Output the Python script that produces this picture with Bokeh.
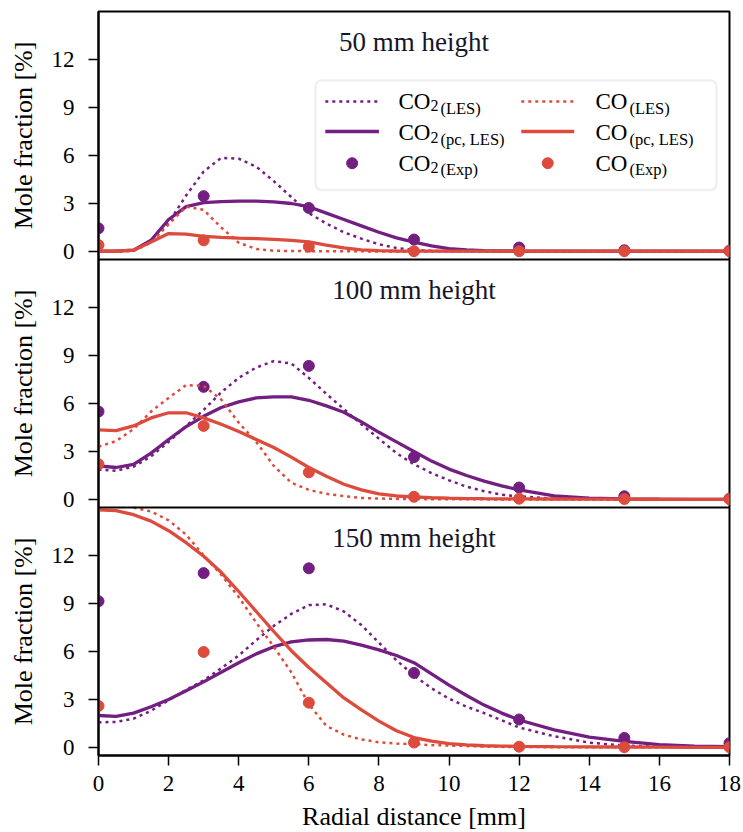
import math
from bokeh.plotting import figure
from bokeh.models import Range1d, Label, BoxAnnotation, FixedTicker, Span
from bokeh.layouts import row, column
from bokeh.embed import file_html
from bokeh.resources import INLINE

NaN = float("nan")

# ---------------- data ----------------
x_grid = [0, 0.5, 1, 1.5, 2, 2.5, 3, 3.5, 4, 4.5, 5, 5.5, 6, 6.5, 7, 7.5, 8, 8.5,
          9, 9.5, 10, 10.5, 11, 11.5, 12, 13, 14, 15, 16, 17, 18]
x_exp = [0, 3, 6, 9, 12, 15, 18]

heights = ["50 mm height", "100 mm height", "150 mm height"]
y_label = "Mole fraction [%]"
x_label = "Radial distance [mm]"

# 50 mm
co2_les_50 = [0, 0, 0.05, 0.6, 1.8, 3.5, 5.0, 5.85, 5.8, 5.3, 4.4, 3.4, 2.4, 1.75, 1.2, 0.8, 0.45,
              0.22, 0.1, 0.04, 0.02, 0.01, 0, 0, 0, 0, 0, 0, 0, 0, 0]
co2_pc_50 = [0.02, 0.02, 0.08, 0.7, 2.0, 2.8, 3.05, 3.12, 3.15, 3.15, 3.1, 3.0, 2.8, 2.4, 2.0, 1.6,
             1.2, 0.85, 0.58, 0.35, 0.18, 0.1, 0.06, 0.04, 0.03, 0.02, 0.02, 0.02, 0.02, 0.02, 0.02]
co_les_50 = [0, 0, 0.05, 0.55, 1.7, 2.8, 2.6, 1.5, 0.55, 0.15, 0.05, 0.03, 0.02, 0.02, 0.01, 0.01,
             0, 0, 0, 0, 0, 0, 0, 0, 0, 0, 0, 0, 0, 0, 0]
co_pc_50 = [0.02, 0.02, 0.08, 0.6, 1.12, 1.08, 0.95, 0.88, 0.83, 0.8, 0.76, 0.7, 0.6, 0.4, 0.22, 0.1,
            0.05, 0.03, 0.02, 0.02, 0.02, 0.02, 0.02, 0.02, 0.02, 0.02, 0.02, 0.02, 0.02, 0.02, 0.02]
co2_exp_50 = [1.45, 3.46, 2.72, 0.75, 0.25, 0.08, 0.05]
co_exp_50 = [0.4, 0.7, 0.3, 0.02, 0.02, 0.02, 0.02]

# 100 mm
co2_les_100 = [1.87, 1.8, 2.05, 2.7, 3.6, 4.6, 5.6, 6.7, 7.6, 8.25, 8.65, 8.5, 7.6, 6.6, 5.65, 4.7,
               3.8, 2.9, 2.2, 1.65, 1.2, 0.8, 0.52, 0.3, 0.2, 0.05, 0.02, 0.01, 0, 0, 0]
co2_pc_100 = [2.1, 2.0, 2.2, 2.9, 3.75, 4.55, 5.2, 5.75, 6.1, 6.35, 6.42, 6.42, 6.2, 5.85, 5.45, 4.85,
              4.2, 3.6, 3.0, 2.4, 1.9, 1.5, 1.15, 0.85, 0.6, 0.22, 0.08, 0.04, 0.02, 0.01, 0.01]
co_les_100 = [3.3, 3.65, 4.4, 5.5, 6.35, 7.15, 7.1, 6.25, 4.8, 3.6, 2.1, 1.05, 0.6, 0.36, 0.21, 0.1,
              0.06, 0.04, 0.03, 0.02, 0.01, 0.01, 0.01, 0, 0, 0, 0, 0, 0, 0, 0]
co_pc_100 = [4.35, 4.3, 4.6, 5.1, 5.42, 5.42, 5.1, 4.7, 4.25, 3.75, 3.25, 2.65, 2.0, 1.45, 0.95, 0.6,
             0.35, 0.22, 0.16, 0.11, 0.08, 0.06, 0.05, 0.045, 0.04, 0.03, 0.02, 0.02, 0.015, 0.01, 0.01]
co2_exp_100 = [5.5, 7.04, 8.35, 2.65, 0.75, 0.2, 0.05]
co_exp_100 = [2.2, 4.6, 1.7, 0.17, 0.05, 0.03, 0.02]

# 150 mm (CO LES enters the panel from above near x = 1)
co2_les_150 = [1.57, 1.6, 1.8, 2.3, 2.95, 3.6, 4.2, 4.95, 5.75, 6.7, 7.6, 8.35, 8.9, 8.95, 8.5, 7.65,
               6.55, 5.45, 4.5, 3.7, 3.05, 2.55, 2.15, 1.7, 1.25, 0.7, 0.3, 0.12, 0.05, 0.02, 0.01]
co2_pc_150 = [2.0, 1.95, 2.15, 2.55, 3.0, 3.55, 4.1, 4.7, 5.3, 5.85, 6.3, 6.6, 6.72, 6.75, 6.65, 6.4,
              6.1, 5.75, 5.3, 4.6, 3.9, 3.25, 2.65, 2.15, 1.72, 1.1, 0.65, 0.38, 0.18, 0.09, 0.05]
co_les_150 = [NaN, NaN, 15.0, 14.75, 14.2, 13.3, 12.0, 10.8, 9.4, 7.8, 6.3, 4.7, 2.7, 1.35, 0.8, 0.5,
              0.33, 0.25, 0.2, 0.15, 0.12, 0.09, 0.06, 0.04, 0.03, 0.02, 0.01, 0.01, 0.01, 0.01, 0.01]
co_pc_150 = [14.85, 14.8, 14.55, 14.15, 13.55, 12.8, 11.95, 10.95, 9.75, 8.5, 7.25, 6.05, 5.0, 4.05, 3.1,
             2.35, 1.65, 1.05, 0.62, 0.4, 0.24, 0.16, 0.11, 0.09, 0.07, 0.05, 0.04, 0.03, 0.02, 0.01, 0.01]
co2_exp_150 = [9.14, 10.9, 11.2, 4.66, 1.75, 0.6, 0.27]
co_exp_150 = [2.6, 5.97, 2.8, 0.31, 0.05, 0.02, 0.02]

y_ticks = [0, 3, 6, 9, 12]
x_ticks = [0, 2, 4, 6, 8, 10, 12, 14, 16, 18]

legend_main = ["CO", "CO", "CO", "CO", "CO", "CO"]
legend_num = ["2", "2", "2", "", "", ""]
legend_sub = ["(LES)", "(pc, LES)", "(Exp)", "(LES)", "(pc, LES)", "(Exp)"]

# ---------------- style / layout ----------------
PURPLE = "#721f81"
RED = "#dd4b3c"
FONT = "Liberation Serif"
Y_LO, Y_HI = -0.5, 15.0
SPAN = Y_HI - Y_LO
offsets = [2 * SPAN, SPAN, 0.0]        # panel stacking (top, middle, bottom)
names = ["h50", "h100", "h150"]
W, H = 743, 832
STRIP_W = 45
BOTTOM_H = 30
TOP = 11
MAIN_H = H - BOTTOM_H
MAIN_BOTTOM = 47
FRAME_L, FRAME_R = 98, 729
LIFT = 0.36   # baseline correction (fraction of font size)

panels = [
    (co2_les_50, co2_pc_50, co2_exp_50, co_les_50, co_pc_50, co_exp_50),
    (co2_les_100, co2_pc_100, co2_exp_100, co_les_100, co_pc_100, co_exp_100),
    (co2_les_150, co2_pc_150, co2_exp_150, co_les_150, co_pc_150, co_exp_150),
]


def stacked_ranges(fig):
    for nm, off in zip(names, offsets):
        fig.extra_y_ranges[nm] = Range1d(Y_LO - off, Y_LO + 3 * SPAN - off)


def bare(fig):
    fig.grid.visible = False
    fig.outline_line_color = None


# left strip: three rotated y-axis titles
strip = figure(width=STRIP_W, height=MAIN_H, title=None,
               x_range=Range1d(0, STRIP_W), y_range=Range1d(Y_LO, Y_LO + 3 * SPAN),
               output_backend="svg", toolbar_location=None,
               x_axis_location=None, y_axis_location=None,
               min_border_left=0, min_border_right=0, min_border_top=TOP,
               min_border_bottom=MAIN_BOTTOM)
stacked_ranges(strip)
bare(strip)
for nm in names:
    strip.add_layout(Label(x=23, y=(Y_LO + Y_HI) / 2, y_range_name=nm,
                           angle=math.pi / 2, text=y_label, text_align="center",
                           text_baseline="middle", text_font=FONT, text_font_size="26px",
                           text_color="black"))

# main plot
p = figure(width=W - STRIP_W, height=MAIN_H, title=None,
           x_range=Range1d(0, 18), y_range=Range1d(Y_LO, Y_LO + 3 * SPAN),
           output_backend="svg", toolbar_location=None,
           min_border_left=FRAME_L - STRIP_W, min_border_right=W - FRAME_R,
           min_border_top=TOP, min_border_bottom=MAIN_BOTTOM)
stacked_ranges(p)
p.grid.visible = False
p.outline_line_color = "black"
p.outline_line_width = 2

tick_pos = []
overrides = {}
for off in offsets:
    for t in y_ticks:
        tick_pos.append(t + off)
        overrides[float(t + off)] = str(t)
yax = p.yaxis[0]
yax.ticker = FixedTicker(ticks=tick_pos)
yax.major_label_overrides = overrides
xax = p.xaxis[0]
xax.ticker = FixedTicker(ticks=x_ticks)
for ax in (xax, yax):
    ax.major_label_text_font = FONT
    ax.major_label_text_font_size = "23px"
    ax.major_label_text_color = "black"
    ax.major_tick_out = 10
    ax.major_tick_in = 0
    ax.minor_tick_out = 0
    ax.minor_tick_in = 0
    ax.major_tick_line_width = 1.5
    ax.axis_line_width = 2
yax.major_label_standoff = 14
xax.major_label_standoff = 10

for off in offsets[:2]:
    p.add_layout(Span(location=Y_LO + off, dimension="width", line_color="black", line_width=2))

for i, (c2l, c2p, c2e, col, cop, coe) in enumerate(panels):
    nm = names[i]
    p.line(x_grid, c2l, line_color=PURPLE, line_width=2.5, line_dash="3 4", y_range_name=nm)
    p.line(x_grid, c2p, line_color=PURPLE, line_width=3.3, y_range_name=nm)
    p.scatter(x_exp, c2e, size=11, marker="circle", color=PURPLE, y_range_name=nm)
    p.line(x_grid, col, line_color=RED, line_width=2.5, line_dash="3 4", y_range_name=nm)
    p.line(x_grid, cop, line_color=RED, line_width=3.3, y_range_name=nm)
    p.scatter(x_exp, coe, size=11, marker="circle", color=RED, y_range_name=nm)

    p.add_layout(Label(x=9, y=12.65, y_range_name=nm, y_offset=0.26 * 27,
                       text=heights[i], text_align="center",
                       text_baseline="alphabetic", text_font=FONT,
                       text_font_size="27px", text_color="#16162a"))

# ---------------- legend (manual, in top panel) ----------------
L = names[0]
p.add_layout(BoxAnnotation(left=6.19, right=17.63, bottom=3.84, top=10.69, y_range_name=L,
                           fill_color="white", fill_alpha=0.85,
                           line_color="#cccccc", line_width=2.5, border_radius=6))

col_sample = [(6.47, 8.0), (12.06, 13.57)]
col_text = [8.557, 14.176]
col_color = [PURPLE, RED]
row_sample_y = [9.37, 7.5, 5.52]
row_text_y = [8.84, 6.89, 5.0]

for c in range(2):
    color = col_color[c]
    x0, x1 = col_sample[c]
    r = p.segment(x0=[x0], y0=[row_sample_y[0]], x1=[x1], y1=[row_sample_y[0]],
                  line_color=color, line_width=2.5, line_dash="3 4", y_range_name=L)
    r.level = "overlay"
    r = p.segment(x0=[x0], y0=[row_sample_y[1]], x1=[x1], y1=[row_sample_y[1]],
                  line_color=color, line_width=3.3, y_range_name=L)
    r.level = "overlay"
    r = p.scatter(x=[(x0 + x1) / 2], y=[row_sample_y[2]], size=11, marker="circle",
                  color=color, y_range_name=L)
    r.level = "overlay"
    for rr in range(3):
        k = c * 3 + rr
        p.add_layout(Label(x=col_text[c], y=row_text_y[rr], y_range_name=L, text=legend_main[k],
                           y_offset=LIFT * 23,
                           text_baseline="alphabetic", text_font=FONT,
                           text_font_size="23px", text_color="black"))
        if legend_num[k]:
            p.add_layout(Label(x=col_text[c], y=row_text_y[rr], y_range_name=L, text=legend_num[k],
                               x_offset=32, y_offset=LIFT * 16 - 1.5,
                               text_baseline="alphabetic", text_font=FONT,
                               text_font_size="16px", text_color="black"))
            sub_off = 42
        else:
            sub_off = 34
        p.add_layout(Label(x=col_text[c], y=row_text_y[rr], y_range_name=L, text=legend_sub[k],
                           x_offset=sub_off, y_offset=LIFT * 16.5 - 4,
                           text_baseline="alphabetic", text_font=FONT,
                           text_font_size="16.5px", text_color="black"))

# bottom strip: x-axis title
bottom = figure(width=W, height=BOTTOM_H, title=None,
                x_range=Range1d(0, W), y_range=Range1d(0, BOTTOM_H),
                output_backend="svg", toolbar_location=None,
                x_axis_location=None, y_axis_location=None,
                min_border_left=0, min_border_right=0, min_border_top=0, min_border_bottom=0)
bare(bottom)
bottom.add_layout(Label(x=(FRAME_L + FRAME_R) / 2, y=8, y_offset=0.3 * 26, text=x_label,
                        text_align="center", text_baseline="alphabetic", text_font=FONT,
                        text_font_size="26px", text_color="black"))

layout = column(row(strip, p, spacing=0), bottom, spacing=0)
open("out.html", "w").write(file_html(layout, INLINE))
